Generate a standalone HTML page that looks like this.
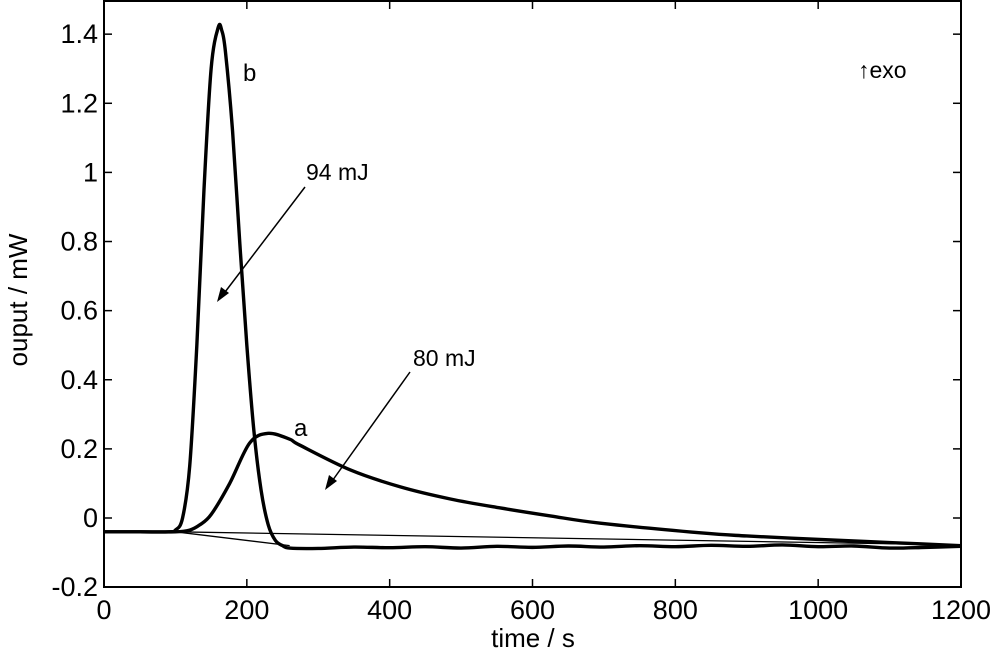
<!DOCTYPE html>
<html><head><meta charset="utf-8"><style>
body{margin:0;background:#fff;}
svg{display:block;font-family:"Liberation Sans",Arial,sans-serif;}
</style></head><body>
<svg id="chart" width="1000" height="657">
<g id="marks"></g>
<g id="axes"></g>
<text x="243" y="81" font-size="24">b</text>
<text x="294" y="436" font-size="24">a</text>
<text x="306" y="180" font-size="23">94 mJ</text>
<text x="413" y="366" font-size="23">80 mJ</text>
<text x="858" y="78" font-size="23">↑exo</text>
<line x1="305" y1="187" x2="222" y2="296" stroke="#000" stroke-width="1.5"/>
<polygon points="217,302 221,287 229,293" fill="#000"/>
<line x1="410" y1="372" x2="330" y2="484" stroke="#000" stroke-width="1.5"/>
<polygon points="325,490 329,475 337,481" fill="#000"/>
<text x="20" y="300" font-size="26" transform="rotate(-90 20 300)" text-anchor="middle" dominant-baseline="middle">ouput / mW</text>
<text x="533" y="647" font-size="26" text-anchor="middle">time / s</text>
</svg>
<script>
const xTicks=[0,200,400,600,800,1000,1200];
const yTicks=[-0.2,0,0.2,0.4,0.6,0.8,1,1.2,1.4];
const yTickLabels=["-0.2","0","0.2","0.4","0.6","0.8","1","1.2","1.4"];
const tA=[0,50,100,120,134,150,176,204,230,260,274,345,415,485,555,625,695,835,900,1022,1100,1200];
const vA=[-0.04,-0.04,-0.04,-0.035,-0.02,0.01,0.1,0.217,0.245,0.228,0.211,0.139,0.09,0.055,0.029,0.006,-0.015,-0.043,-0.052,-0.064,-0.071,-0.08];
const tB=[0,50,90,100,110,120,130,140,150,160,165,170,180,190,200,210,220,230,240,250,260,300,350,400,450,500,550,600,650,700,750,800,850,900,950,1000,1050,1100,1150,1200];
const vB=[-0.04,-0.04,-0.04,-0.035,0.0,0.15,0.5,0.95,1.3,1.42,1.41,1.35,1.12,0.8,0.5,0.25,0.08,-0.02,-0.065,-0.08,-0.087,-0.088,-0.084,-0.086,-0.083,-0.087,-0.082,-0.085,-0.081,-0.084,-0.08,-0.083,-0.079,-0.082,-0.078,-0.083,-0.081,-0.087,-0.085,-0.082];
const baseA=[[100,-0.04],[1200,-0.078]];
const baseB=[[100,-0.04],[260,-0.08]];
const X0=104,X1=961,Y0=587,Y1=1;
const sx=t=>X0+(t-0)/1200*(X1-X0);
const sy=v=>518-v*345.6;
const NS="http://www.w3.org/2000/svg";
const marks=document.getElementById('marks'),axes=document.getElementById('axes');
function mk(tag,attrs,parent){const e=document.createElementNS(NS,tag);for(const k in attrs)e.setAttribute(k,attrs[k]);parent.appendChild(e);return e;}
function smooth(ts,vs){let pts=ts.map((t,i)=>[sx(t),sy(vs[i])]);let d="M"+pts[0];for(let i=0;i<pts.length-1;i++){const p0=pts[i-1]||pts[i],p1=pts[i],p2=pts[i+1],p3=pts[i+2]||p2;const c1=[p1[0]+(p2[0]-p0[0])/6,p1[1]+(p2[1]-p0[1])/6],c2=[p2[0]-(p3[0]-p1[0])/6,p2[1]-(p3[1]-p1[1])/6];d+=" C"+c1+" "+c2+" "+p2;}return d;}
let l1=mk('line',{x1:sx(baseA[0][0]),y1:sy(baseA[0][1]),x2:sx(baseA[1][0]),y2:sy(baseA[1][1]),stroke:'#000','stroke-width':1.3},marks);


let l2=mk('line',{x1:sx(baseB[0][0]),y1:sy(baseB[0][1]),x2:sx(baseB[1][0]),y2:sy(baseB[1][1]),stroke:'#000','stroke-width':1.3},marks);


let pa=mk('path',{d:smooth(tA,vA),fill:'none',stroke:'#000','stroke-width':3.4},marks);


let pb=mk('path',{d:smooth(tB,vB),fill:'none',stroke:'#000','stroke-width':3.4},marks);


let fr=mk('rect',{x:X0,y:Y1,width:X1-X0,height:Y0-Y1,fill:'none',stroke:'#000','stroke-width':2},axes);


xTicks.forEach(t=>{const x=sx(t);
mk('line',{x1:x,y1:Y0,x2:x,y2:Y0-8,stroke:'#000','stroke-width':1.5},axes);
mk('line',{x1:x,y1:Y1,x2:x,y2:Y1+8,stroke:'#000','stroke-width':1.5},axes);
const tx=mk('text',{x:x,y:619,'font-size':27,'text-anchor':'middle'},axes);tx.textContent=t;

});
yTicks.forEach((v,i)=>{const y=sy(v);
mk('line',{x1:X0,y1:y,x2:X0+8,y2:y,stroke:'#000','stroke-width':1.5},axes);
mk('line',{x1:X1,y1:y,x2:X1-8,y2:y,stroke:'#000','stroke-width':1.5},axes);
const tx=mk('text',{x:98,y:y+9,'font-size':27,'text-anchor':'end'},axes);tx.textContent=yTickLabels[i];

});
</script>
</body></html>
